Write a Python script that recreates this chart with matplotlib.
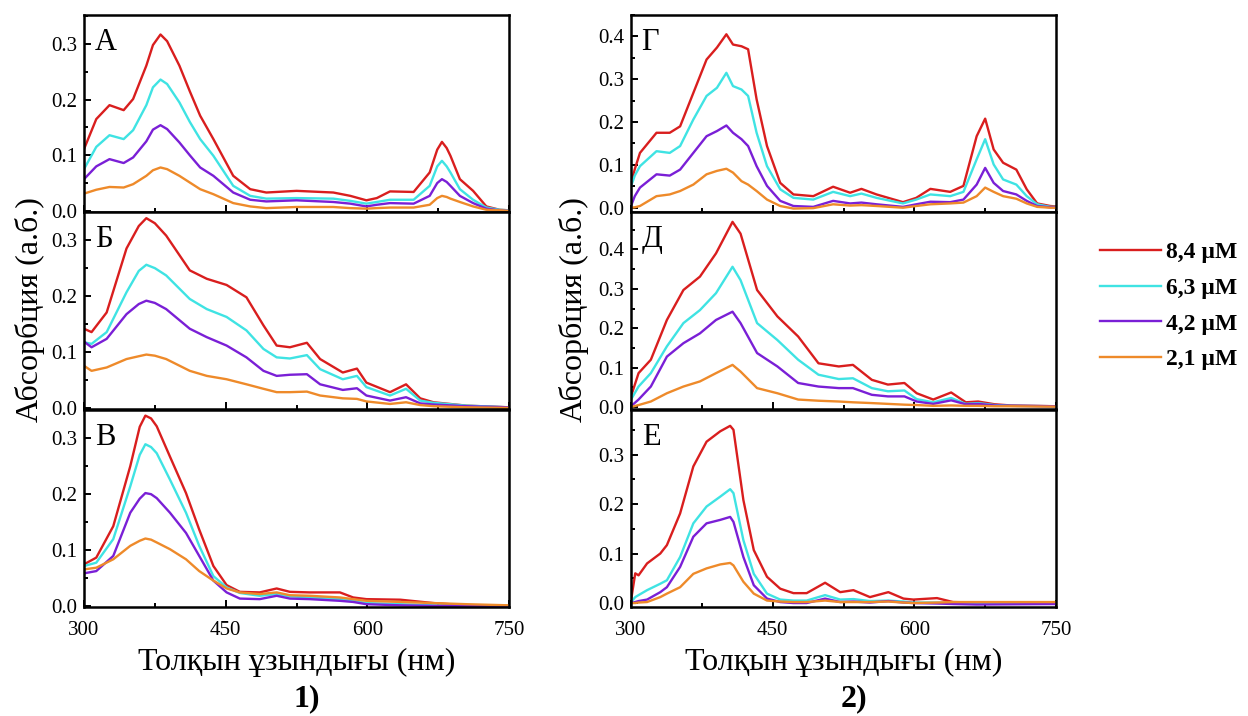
import matplotlib
matplotlib.use("Agg")
import matplotlib.pyplot as plt
from matplotlib.ticker import MultipleLocator, FormatStrFormatter

plt.rcParams['font.family'] = ['Liberation Serif', 'DejaVu Serif']

# concentrations and line colours
labels = ["8,4 µM", "6,3 µM", "4,2 µM", "2,1 µM"]
colors = ["#d91e1e", "#3fe3e3", "#7a1fd6", "#ee8a2a"]

# --- panel А ---
wl_a = [300, 313, 327, 342, 352, 366, 373, 381, 388, 401, 412, 423, 437, 458, 476, 493,
        525, 564, 582, 599, 610, 624, 649, 666, 674, 679, 684, 688, 698, 712, 726, 740, 750]
a_84 = [.111, .165, .190, .181, .201, .261, .298, .317, .305, .261, .215, .171, .129, .063, .039, .033,
        .036, .033, .027, .019, .023, .035, .034, .069, .110, .124, .113, .099, .057, .036, .008, .002, .001]
a_63 = [.075, .115, .136, .129, .145, .190, .222, .236, .228, .195, .160, .129, .099, .045, .027, .022,
        .023, .022, .018, .013, .016, .020, .020, .045, .080, .090, .080, .069, .039, .020, .006, .002, .001]
a_42 = [.057, .080, .093, .086, .096, .125, .146, .154, .147, .123, .100, .078, .063, .033, .020, .017,
        .019, .016, .013, .008, .011, .014, .013, .027, .050, .057, .052, .045, .027, .014, .004, .001, .000]
a_21 = [.031, .038, .043, .042, .048, .063, .073, .078, .075, .063, .051, .039, .030, .014, .008, .005,
        .007, .007, .005, .004, .005, .006, .006, .011, .023, .027, .025, .022, .016, .008, .002, .001, .000]

# --- panel Б ---
wl_b = [300, 308, 324, 345, 358, 366, 375, 387, 412, 430, 451, 472, 490, 504, 518, 536, 550,
        574, 589, 599, 624, 641, 656, 670, 705, 750]
b_84 = [.142, .136, .171, .285, .325, .339, .330, .308, .246, .231, .220, .198, .148, .112, .109, .117, .088,
        .064, .071, .046, .029, .043, .018, .011, .005, .002]
b_63 = [.118, .115, .136, .207, .245, .256, .250, .237, .195, .177, .163, .139, .106, .091, .089, .095, .070,
        .052, .058, .038, .023, .035, .014, .010, .005, .002]
b_42 = [.119, .109, .124, .168, .186, .192, .188, .177, .142, .127, .112, .091, .067, .058, .060, .061, .043,
        .033, .036, .023, .014, .020, .009, .007, .004, .002]
b_21 = [.076, .067, .073, .088, .093, .096, .094, .088, .067, .058, .052, .043, .035, .029, .029, .030, .023,
        .018, .017, .0125, .008, .011, .006, .004, .002, .001]

# --- panel В ---
wl_c = [300, 313, 331, 349, 359, 365, 371, 377, 391, 408, 422, 437, 451, 465, 486, 504, 518,
        539, 571, 585, 599, 635, 670, 705, 750]
c_84 = [.075, .087, .143, .250, .320, .340, .335, .321, .267, .202, .137, .072, .038, .026, .025, .032, .026,
        .025, .025, .016, .013, .012, .006, .002, .001]
c_63 = [.072, .078, .120, .214, .270, .289, .284, .273, .226, .167, .108, .054, .034, .024, .019, .022, .018,
        .016, .013, .010, .006, .004, .002, .001, .001]
c_42 = [.059, .063, .090, .167, .192, .202, .200, .193, .167, .131, .090, .046, .025, .014, .013, .019, .014,
        .013, .010, .008, .004, .002, .001, .001, .000]
c_21 = [.066, .069, .084, .108, .117, .121, .119, .114, .102, .084, .063, .046, .032, .025, .022, .025, .020,
        .019, .016, .013, .010, .008, .006, .004, .002]

# --- panel Г ---
wl_d = [300, 304, 309.5, 327, 341, 352, 366, 380, 391, 401, 408, 417, 424, 433, 444, 458, 472, 493,
        514, 532, 544, 560, 588, 602, 617, 638, 652, 666, 675, 684, 694, 708, 719, 730, 744, 750]
d_84 = [.058, .090, .128, .175, .175, .190, .268, .346, .374, .405, .381, .377, .370, .253, .144, .058, .031, .027,
        .049, .035, .044, .031, .013, .023, .044, .037, .051, .167, .208, .136, .105, .089, .043, .010, .004, .003]
d_63 = [.050, .075, .097, .132, .128, .144, .206, .261, .280, .315, .284, .276, .261, .175, .097, .043, .023, .019,
        .037, .027, .033, .023, .010, .019, .031, .027, .037, .113, .160, .101, .066, .054, .027, .008, .002, .002]
d_42 = [.004, .027, .047, .078, .075, .089, .128, .167, .179, .192, .175, .160, .144, .097, .051, .016, .004, .002,
        .016, .010, .012, .008, .002, .008, .014, .013, .019, .054, .093, .058, .039, .031, .016, .004, .001, .001]
d_21 = [.000, .001, .004, .027, .031, .039, .054, .078, .086, .091, .082, .062, .054, .039, .019, .004, -.002, -.001,
        .008, .005, .006, .004, .000, .004, .008, .010, .012, .027, .047, .037, .027, .021, .010, .002, .000, .000]

# --- panel Д ---
wl_e = [300, 308, 321, 338, 355.5, 373, 390, 407.5, 416, 433.5, 455, 477, 498.5,
        520, 535, 555, 572, 589.5, 602.5, 620, 639, 654.5, 667.5, 685, 702, 750]
e_84 = [.027, .086, .120, .221, .297, .331, .390, .470, .440, .297, .230, .179, .111,
        .103, .107, .069, .057, .061, .035, .019, .037, .012, .014, .007, .004, .002]
e_63 = [.019, .052, .086, .154, .213, .246, .289, .356, .322, .213, .170, .120, .082,
        .071, .073, .048, .040, .042, .020, .012, .023, .008, .010, .005, .003, .002]
e_42 = [.002, .019, .052, .128, .162, .187, .221, .242, .213, .137, .103, .061, .052,
        .048, .048, .031, .027, .027, .014, .008, .017, .007, .008, .004, .003, .002]
e_21 = [.000, .005, .014, .035, .052, .065, .086, .107, .090, .048, .035, .019, .016,
        .014, .012, .010, .008, .006, .005, .003, .004, .003, .003, .002, .002, .001]

# --- panel Е ---
wl_f = [300, 304.5, 308, 317, 331, 338, 352, 366, 380, 394.5, 405, 408.5, 419, 430, 444,
        458, 472, 486, 505.5, 521.5, 535.5, 553, 572.5, 588.5, 599, 624, 641, 666, 750]
f_84 = [.005, .060, .056, .080, .100, .117, .181, .276, .326, .347, .358, .350, .208, .107, .053,
        .029, .020, .020, .041, .022, .026, .012, .022, .009, .007, .010, .002, .001, .001]
f_63 = [.002, .012, .016, .026, .039, .046, .093, .161, .195, .215, .230, .222, .127, .059, .019,
        .007, .005, .005, .016, .007, .008, .004, .005, .003, .001, .001, .000, .000, .000]
f_42 = [.000, .002, .004, .007, .022, .032, .073, .134, .161, .168, .174, .164, .093, .036, .009,
        .002, .000, .000, .009, .002, .003, .001, .004, .001, .000, -.001, -.002, -.003, -.002]
f_21 = [.000, .000, .001, .002, .012, .019, .032, .059, .070, .078, .081, .076, .043, .019, .005,
        .003, .002, .002, .005, .002, .002, .002, .003, .001, .000, .001, .002, .002, .002]

panels = [
    ("А", wl_a, [a_84, a_63, a_42, a_21], (-0.002, 0.352)),
    ("Б", wl_b, [b_84, b_63, b_42, b_21], (-0.001, 0.35)),
    ("В", wl_c, [c_84, c_63, c_42, c_21], (-0.001, 0.35)),
    ("Г", wl_d, [d_84, d_63, d_42, d_21], (-0.01, 0.45)),
    ("Д", wl_e, [e_84, e_63, e_42, e_21], (-0.005, 0.495)),
    ("Е", wl_f, [f_84, f_63, f_42, f_21], (-0.008, 0.39)),
]

fig = plt.figure(figsize=(12.48, 7.16), dpi=100)

col_left = [84 / 1248, 631 / 1248]
width = 425 / 1248
height = 197 / 716
bottoms = [1 - 212 / 716, 1 - 409 / 716, 1 - 607 / 716]

lines = []
for i, (letter, wl, series, ylim) in enumerate(panels):
    col, row = divmod(i, 3)
    ax = fig.add_axes([col_left[col], bottoms[row], width, height])
    for vals, c, lab in zip(series, colors, labels):
        ln, = ax.plot(wl, vals, color=c, lw=1.7, label=lab, solid_joinstyle='round')
        if i == 0:
            lines.append(ln)
    ax.set_xlim(300, 750)
    ax.set_ylim(*ylim)
    ax.xaxis.set_major_locator(MultipleLocator(150))
    ax.xaxis.set_minor_locator(MultipleLocator(75))
    ax.yaxis.set_major_locator(MultipleLocator(0.1))
    ax.yaxis.set_minor_locator(MultipleLocator(0.05))
    ax.yaxis.set_major_formatter(FormatStrFormatter('%.1f'))
    ax.tick_params(which='both', direction='in', top=False, right=False, width=1.4)
    ax.tick_params(which='major', length=5, labelsize=15)
    ax.tick_params(which='minor', length=3)
    ax.tick_params(axis='x', pad=10)
    ax.tick_params(axis='y', pad=5)
    if row < 2:
        ax.tick_params(axis='x', labelbottom=False)
    for sp in ax.spines.values():
        sp.set_linewidth(1.8)
    ax.text(0.025, 0.86, letter, transform=ax.transAxes, fontsize=22,
            ha='left', va='center')

# axis titles and sub-figure numbers
for x0, num in zip(col_left, ["1)", "2)"]):
    xc = x0 + width / 2
    fig.text(xc, 1 - 662 / 716, "Толқын ұзындығы (нм)", fontsize=23,
             ha='center', va='center')
    fig.text(xc + 0.008, 1 - 699 / 716, num, fontsize=23, fontweight='bold',
             ha='center', va='center')
fig.text(30 / 1248, 1 - 310 / 716, "Абсорбция (а.б.)", fontsize=23,
         rotation=90, ha='center', va='center')
fig.text(574 / 1248, 1 - 310 / 716, "Абсорбция (а.б.)", fontsize=23,
         rotation=90, ha='center', va='center')

fig.legend(handles=lines, loc='center left', bbox_to_anchor=(1083 / 1248, 1 - 306 / 716),
           frameon=False, prop={'weight': 'bold', 'size': 17}, handlelength=2.6,
           handletextpad=0.2, labelspacing=0.6, borderpad=0.2)

fig.savefig("out.png", dpi=100)
